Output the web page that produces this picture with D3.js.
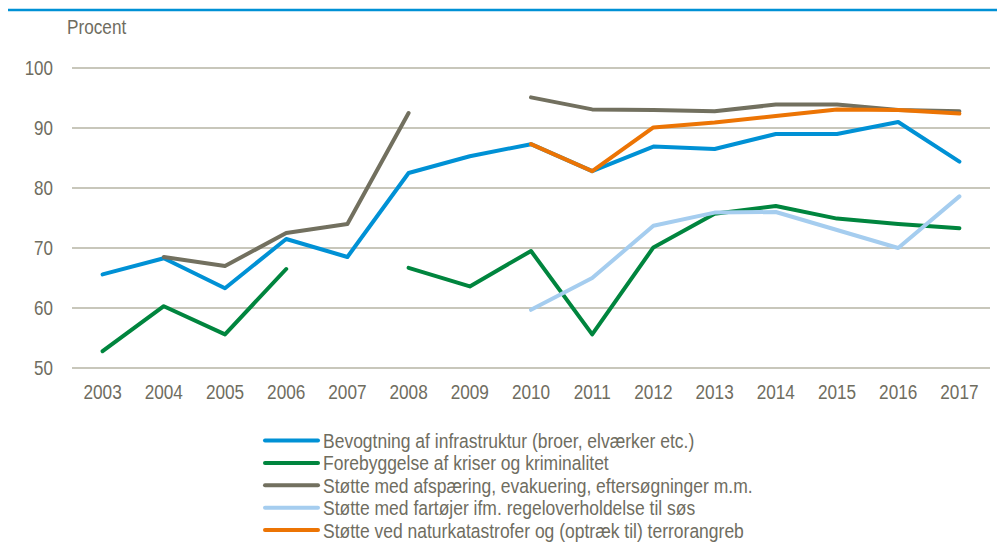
<!DOCTYPE html>
<html>
<head>
<meta charset="utf-8">
<script src="https://cdn.jsdelivr.net/npm/d3@7"></script>
<style>
  html, body { margin: 0; padding: 0; background: #fff; }
  svg { display: block; }
  text { font-family: "Liberation Sans", Arial, sans-serif; fill: #6f6d5f; }
</style>
</head>
<body>
<svg id="chart" width="997" height="542"></svg>
<script>
const years = ["2003","2004","2005","2006","2007","2008","2009","2010","2011","2012","2013","2014","2015","2016","2017"];
const yTicks = [50, 60, 70, 80, 90, 100];
const seriesNames = [
  "Bevogtning af infrastruktur (broer, elværker etc.)",
  "Forebyggelse af kriser og kriminalitet",
  "Støtte med afspæring, evakuering, eftersøgninger m.m.",
  "Støtte med fartøjer ifm. regeloverholdelse til søs",
  "Støtte ved naturkatastrofer og (optræk til) terrorangreb"
];
const bevogtning   = [65.6, 68.3, 63.3, 71.5, 68.5, 82.5, 85.3, 87.3, 82.8, 86.9, 86.5, 89.0, 89.0, 91.0, 84.4];
const forebyggelse = [52.8, 60.3, 55.6, 66.5, null, 66.7, 63.6, 69.5, 55.6, 70.1, 75.7, 77.0, 74.9, 74.0, 73.3];
const afspaering   = [null, 68.5, 67.0, 72.5, 74.0, 92.5, null, 95.1, 93.1, 93.0, 92.8, 93.9, 93.9, 93.0, 92.8];
const fartoejer    = [null, null, null, null, null, null, null, 59.7, 65.0, 73.7, 75.9, 76.0, 73.0, 70.0, 78.6];
const naturkatastrofer = [null, null, null, null, null, null, null, 87.3, 82.8, 90.1, 90.9, 92.0, 93.1, 93.0, 92.4];
const colors = ["#0091d5", "#00853e", "#72705f", "#a5cdef", "#ec7404"];

const seriesValues = [bevogtning, forebyggelse, afspaering, fartoejer, naturkatastrofer];

const svg = d3.select("#chart");
const plotLeft = 72, plotRight = 990, plotTop = 68, plotBottom = 368;
const stretch = 1.18;

const x = d3.scalePoint().domain(years).range([plotLeft, plotRight]).padding(0.5);
const y = d3.scaleLinear().domain([50, 100]).range([plotBottom, plotTop]);

// text helper: places text with baseline at (tx, ty) and a slight vertical stretch
function placeText(sel, tx, ty) {
  return sel.attr("transform", (d, i) => `translate(${typeof tx === "function" ? tx(d, i) : tx},${typeof ty === "function" ? ty(d, i) : ty}) scale(1,${stretch})`);
}

// header rule
svg.append("line").attr("x1", 8).attr("x2", 997).attr("y1", 10).attr("y2", 10)
  .attr("stroke", "#0091d5").attr("stroke-width", 2.5);

// gridlines
svg.append("g").selectAll("line").data(yTicks).join("line")
  .attr("x1", plotLeft).attr("x2", plotRight)
  .attr("y1", d => y(d)).attr("y2", d => y(d))
  .attr("stroke", "#b6b4a4").attr("stroke-width", 1.3);

// y tick labels
placeText(svg.append("g").selectAll("text").data(yTicks).join("text")
  .attr("text-anchor", "end").attr("font-size", 17).text(d => d),
  53, d => y(d) + 7.2);

// unit label
placeText(svg.append("text").attr("font-size", 17.2).text("Procent"), 67, 34.2);

// x labels
placeText(svg.append("g").selectAll("text").data(years).join("text")
  .attr("text-anchor", "middle").attr("font-size", 17.2).text(d => d),
  d => x(d), 399.2);

// lines
const line = d3.line()
  .defined(d => d.v != null)
  .x(d => x(d.year)).y(d => y(d.v));

seriesValues.forEach((vals, i) => {
  const data = years.map((yr, j) => ({ year: yr, v: vals[j] }));
  svg.append("path").datum(data)
    .attr("fill", "none").attr("stroke", colors[i]).attr("stroke-width", 4)
    .attr("stroke-linejoin", "round").attr("stroke-linecap", "round")
    .attr("d", line);
});

// legend
const lg = svg.append("g");
seriesNames.forEach((name, i) => {
  const ly = 440.5 + i * 22.4;
  lg.append("line").attr("x1", 265).attr("x2", 318).attr("y1", ly).attr("y2", ly)
    .attr("stroke", colors[i]).attr("stroke-width", 4).attr("stroke-linecap", "round");
  placeText(lg.append("text").attr("font-size", 17.5).text(name), 323, ly + 7.4);
});
</script>
</body>
</html>
